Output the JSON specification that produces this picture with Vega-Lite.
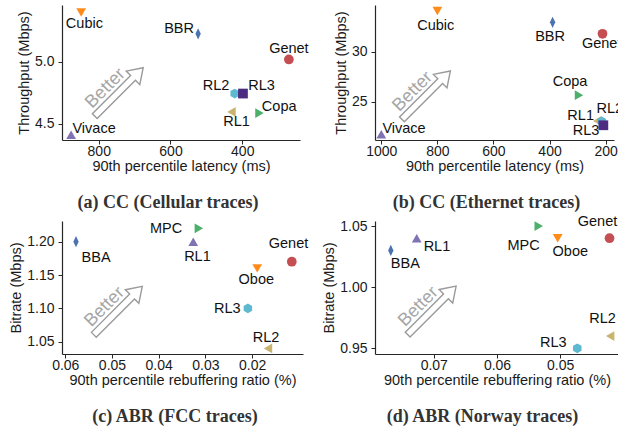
{
  "$schema": "https://vega.github.io/schema/vega-lite/v6.json",
  "autosize": {"type": "pad"},
  "padding": {"left": 8, "top": 5, "right": 0, "bottom": 0},
  "background": "white",
  "bounds": "flush",
  "columns": 2,
  "spacing": {"row": 81, "column": 72},
  "resolve": {"scale": {"color": "independent", "shape": "independent", "x": "independent", "y": "independent"}},
  "datasets": {
    "a_pts": [
      {"name": "Cubic", "x": 849, "y": 5.40},
      {"name": "BBR", "x": 523, "y": 5.227},
      {"name": "Genet", "x": 270, "y": 5.02},
      {"name": "RL2", "x": 421, "y": 4.745},
      {"name": "RL3", "x": 398, "y": 4.745},
      {"name": "RL1", "x": 430, "y": 4.597},
      {"name": "Copa", "x": 352, "y": 4.587},
      {"name": "Vivace", "x": 877, "y": 4.413}
    ],
    "a_lbl": [
      {"name": "Cubic", "x": 840, "y": 5.31},
      {"name": "BBR", "x": 576, "y": 5.268},
      {"name": "Genet", "x": 270, "y": 5.106},
      {"name": "RL2", "x": 473, "y": 4.81},
      {"name": "RL3", "x": 346, "y": 4.81},
      {"name": "Copa", "x": 297, "y": 4.634},
      {"name": "RL1", "x": 416, "y": 4.512},
      {"name": "Vivace", "x": 813, "y": 4.455}
    ],
    "a_arrow": [{"x": 743.6, "y": 4.758}],
    "b_pts": [
      {"name": "Cubic", "x": 800, "y": 34.07},
      {"name": "BBR", "x": 389, "y": 32.94},
      {"name": "Genet", "x": 211, "y": 31.8},
      {"name": "Copa", "x": 295, "y": 25.67},
      {"name": "RL1", "x": 230, "y": 23.1},
      {"name": "RL2", "x": 214, "y": 23.07},
      {"name": "RL3", "x": 208, "y": 22.67},
      {"name": "Vivace", "x": 1000, "y": 21.77}
    ],
    "b_lbl": [
      {"name": "Cubic", "x": 806, "y": 32.55},
      {"name": "BBR", "x": 398, "y": 31.49},
      {"name": "Genet", "x": 214, "y": 30.82},
      {"name": "Copa", "x": 327, "y": 26.95},
      {"name": "RL1", "x": 289, "y": 23.59},
      {"name": "RL2", "x": 185, "y": 24.25},
      {"name": "RL3", "x": 270, "y": 22.12},
      {"name": "Vivace", "x": 919, "y": 22.29}
    ],
    "b_arrow": [{"x": 840, "y": 25.67}],
    "c_pts": [
      {"name": "BBA", "x": 0.0577, "y": 1.20},
      {"name": "MPC", "x": 0.0314, "y": 1.22},
      {"name": "RL1", "x": 0.0326, "y": 1.20},
      {"name": "Genet", "x": 0.0115, "y": 1.17},
      {"name": "Oboe", "x": 0.0189, "y": 1.16},
      {"name": "RL3", "x": 0.0209, "y": 1.10},
      {"name": "RL2", "x": 0.0166, "y": 1.04}
    ],
    "c_lbl": [
      {"name": "BBA", "x": 0.0534, "y": 1.175},
      {"name": "MPC", "x": 0.0384, "y": 1.2188},
      {"name": "RL1", "x": 0.0317, "y": 1.1768},
      {"name": "Genet", "x": 0.0122, "y": 1.196},
      {"name": "Oboe", "x": 0.0191, "y": 1.1426},
      {"name": "RL3", "x": 0.0253, "y": 1.0987},
      {"name": "RL2", "x": 0.0170, "y": 1.0563}
    ],
    "c_arrow": [{"x": 0.0487, "y": 1.0967}],
    "d_pts": [
      {"name": "BBA", "x": 0.0768, "y": 1.03},
      {"name": "RL1", "x": 0.0727, "y": 1.04},
      {"name": "MPC", "x": 0.0534, "y": 1.05},
      {"name": "Oboe", "x": 0.0504, "y": 1.04},
      {"name": "Genet", "x": 0.0422, "y": 1.04},
      {"name": "RL2", "x": 0.0421, "y": 0.96},
      {"name": "RL3", "x": 0.0473, "y": 0.95}
    ],
    "d_lbl": [
      {"name": "BBA", "x": 0.0745, "y": 1.0188},
      {"name": "RL1", "x": 0.0695, "y": 1.0331},
      {"name": "MPC", "x": 0.0558, "y": 1.0333},
      {"name": "Oboe", "x": 0.0484, "y": 1.029},
      {"name": "Genet", "x": 0.0441, "y": 1.0529},
      {"name": "RL2", "x": 0.0433, "y": 0.9738},
      {"name": "RL3", "x": 0.0511, "y": 0.9547}
    ],
    "d_arrow": [{"x": 0.0703, "y": 0.981}]
  },
  "concat": [
    {
      "width": 238, "height": 135,
      "title": {"text": "(a) CC (Cellular traces)", "dx": -13},
      "encoding": {
        "x": {"field": "x", "type": "quantitative", "scale": {"domain": [239, 902.4], "reverse": true, "nice": false, "zero": false}, "axis": {"values": [400, 600, 800], "format": "d", "title": "90th percentile latency (ms)"}},
        "y": {"field": "y", "type": "quantitative", "scale": {"domain": [4.37, 5.46], "nice": false, "zero": false}, "axis": {"values": [4.5, 5.0], "format": ".1f", "title": "Throughput (Mbps)"}}
      },
      "layer": [
        {"data": {"name": "a_arrow"}, "mark": {"type": "point", "shape": "M -1 -0.1 L 0.58 -0.1 L 0.58 -0.28 L 1 0 L 0.58 0.28 L 0.58 0.1 L -1 0.1 Z", "angle": 315, "size": 4692, "filled": true, "fill": "white", "stroke": "#9a9a9a", "strokeWidth": 1.4, "opacity": 1}},
        {"data": {"name": "a_arrow"}, "mark": {"type": "text", "text": "Better", "angle": 315, "dx": -7, "dy": -12, "align": "center", "baseline": "middle", "font": "Liberation Sans", "fontSize": 18, "color": "#a6a6a6"}},
        {"data": {"name": "a_pts"}, "mark": {"type": "point", "filled": true, "size": 95, "opacity": 1, "strokeWidth": 0},
          "encoding": {
            "color": {"field": "name", "type": "nominal", "legend": null, "scale": {"domain": ["Cubic", "BBR", "Genet", "RL2", "RL3", "RL1", "Copa", "Vivace"], "range": ["#FF8C1A", "#4C72B0", "#C44E52", "#5DB8D0", "#4B2C82", "#C8B46E", "#4CAF6A", "#8172B3"]}},
            "shape": {"field": "name", "type": "nominal", "legend": null, "scale": {"domain": ["Cubic", "BBR", "Genet", "RL2", "RL3", "RL1", "Copa", "Vivace"], "range": ["triangle-down", "M 0 -1.15 L 0.55 0 L 0 1.15 L -0.55 0 Z", "circle", "M 0 -1 L 0.87 -0.5 L 0.87 0.5 L 0 1 L -0.87 0.5 L -0.87 -0.5 Z", "square", "triangle-left", "triangle-right", "triangle-up"]}}
          }},
        {"data": {"name": "a_lbl"}, "mark": {"type": "text", "align": "center", "baseline": "middle", "font": "Liberation Sans", "fontSize": 14.5, "color": "#111111"},
          "encoding": {"text": {"field": "name"}}}
      ]
    },
    {
      "width": 239, "height": 135,
      "title": {"text": "(b) CC (Ethernet traces)", "dx": -8},
      "encoding": {
        "x": {"field": "x", "type": "quantitative", "scale": {"domain": [170, 1022.5], "reverse": true, "nice": false, "zero": false}, "axis": {"values": [200, 400, 600, 800, 1000], "format": "d", "title": "90th percentile latency (ms)"}},
        "y": {"field": "y", "type": "quantitative", "scale": {"domain": [21.2, 34.67], "nice": false, "zero": false}, "axis": {"values": [25, 30], "format": "d", "title": "Throughput (Mbps)"}}
      },
      "layer": [
        {"data": {"name": "b_arrow"}, "mark": {"type": "point", "shape": "M -1 -0.1 L 0.58 -0.1 L 0.58 -0.28 L 1 0 L 0.58 0.28 L 0.58 0.1 L -1 0.1 Z", "angle": 315, "size": 4692, "filled": true, "fill": "white", "stroke": "#9a9a9a", "strokeWidth": 1.4, "opacity": 1}},
        {"data": {"name": "b_arrow"}, "mark": {"type": "text", "text": "Better", "angle": 315, "dx": -7, "dy": -12, "align": "center", "baseline": "middle", "font": "Liberation Sans", "fontSize": 18, "color": "#a6a6a6"}},
        {"data": {"name": "b_pts"}, "mark": {"type": "point", "filled": true, "size": 95, "opacity": 1, "strokeWidth": 0},
          "encoding": {
            "color": {"field": "name", "type": "nominal", "legend": null, "scale": {"domain": ["Cubic", "BBR", "Genet", "RL2", "RL3", "RL1", "Copa", "Vivace"], "range": ["#FF8C1A", "#4C72B0", "#C44E52", "#5DB8D0", "#4B2C82", "#C8B46E", "#4CAF6A", "#8172B3"]}},
            "shape": {"field": "name", "type": "nominal", "legend": null, "scale": {"domain": ["Cubic", "BBR", "Genet", "RL2", "RL3", "RL1", "Copa", "Vivace"], "range": ["triangle-down", "M 0 -1.15 L 0.55 0 L 0 1.15 L -0.55 0 Z", "circle", "M 0 -1 L 0.87 -0.5 L 0.87 0.5 L 0 1 L -0.87 0.5 L -0.87 -0.5 Z", "square", "triangle-left", "triangle-right", "triangle-up"]}}
          }},
        {"data": {"name": "b_lbl"}, "mark": {"type": "text", "align": "center", "baseline": "middle", "font": "Liberation Sans", "fontSize": 14.5, "color": "#111111"},
          "encoding": {"text": {"field": "name"}}}
      ]
    },
    {
      "width": 241, "height": 133,
      "title": {"text": "(c) ABR (FCC traces)", "dx": -7.5},
      "encoding": {
        "x": {"field": "x", "type": "quantitative", "scale": {"domain": [0.0091, 0.0607], "reverse": true, "nice": false, "zero": false}, "axis": {"values": [0.02, 0.03, 0.04, 0.05, 0.06], "format": ".2f", "title": "90th percentile rebuffering ratio (%)"}},
        "y": {"field": "y", "type": "quantitative", "scale": {"domain": [1.0316, 1.231], "nice": false, "zero": false}, "axis": {"values": [1.05, 1.10, 1.15, 1.20], "format": ".2f", "title": "Bitrate (Mbps)"}}
      },
      "layer": [
        {"data": {"name": "c_arrow"}, "mark": {"type": "point", "shape": "M -1 -0.1 L 0.58 -0.1 L 0.58 -0.28 L 1 0 L 0.58 0.28 L 0.58 0.1 L -1 0.1 Z", "angle": 315, "size": 4692, "filled": true, "fill": "white", "stroke": "#9a9a9a", "strokeWidth": 1.4, "opacity": 1}},
        {"data": {"name": "c_arrow"}, "mark": {"type": "text", "text": "Better", "angle": 315, "dx": -7, "dy": -12, "align": "center", "baseline": "middle", "font": "Liberation Sans", "fontSize": 18, "color": "#a6a6a6"}},
        {"data": {"name": "c_pts"}, "mark": {"type": "point", "filled": true, "size": 95, "opacity": 1, "strokeWidth": 0},
          "encoding": {
            "color": {"field": "name", "type": "nominal", "legend": null, "scale": {"domain": ["BBA", "MPC", "RL1", "Genet", "Oboe", "RL3", "RL2"], "range": ["#4C72B0", "#4CAF6A", "#8172B3", "#C44E52", "#FF8C1A", "#5DB8D0", "#C8B46E"]}},
            "shape": {"field": "name", "type": "nominal", "legend": null, "scale": {"domain": ["BBA", "MPC", "RL1", "Genet", "Oboe", "RL3", "RL2"], "range": ["M 0 -1.15 L 0.55 0 L 0 1.15 L -0.55 0 Z", "triangle-right", "triangle-up", "circle", "triangle-down", "M 0 -1 L 0.87 -0.5 L 0.87 0.5 L 0 1 L -0.87 0.5 L -0.87 -0.5 Z", "triangle-left"]}}
          }},
        {"data": {"name": "c_lbl"}, "mark": {"type": "text", "align": "center", "baseline": "middle", "font": "Liberation Sans", "fontSize": 14.5, "color": "#111111"},
          "encoding": {"text": {"field": "name"}}}
      ]
    },
    {
      "width": 244, "height": 133,
      "title": {"text": "(d) ABR (Norway traces)", "dx": -14.5},
      "encoding": {
        "x": {"field": "x", "type": "quantitative", "scale": {"domain": [0.0407, 0.0793], "reverse": true, "nice": false, "zero": false}, "axis": {"values": [0.05, 0.06, 0.07], "format": ".2f", "title": "90th percentile rebuffering ratio (%)"}},
        "y": {"field": "y", "type": "quantitative", "scale": {"domain": [0.9453, 1.0541], "nice": false, "zero": false}, "axis": {"values": [0.95, 1.00, 1.05], "format": ".2f", "title": "Bitrate (Mbps)"}}
      },
      "layer": [
        {"data": {"name": "d_arrow"}, "mark": {"type": "point", "shape": "M -1 -0.1 L 0.58 -0.1 L 0.58 -0.28 L 1 0 L 0.58 0.28 L 0.58 0.1 L -1 0.1 Z", "angle": 315, "size": 4692, "filled": true, "fill": "white", "stroke": "#9a9a9a", "strokeWidth": 1.4, "opacity": 1}},
        {"data": {"name": "d_arrow"}, "mark": {"type": "text", "text": "Better", "angle": 315, "dx": -7, "dy": -12, "align": "center", "baseline": "middle", "font": "Liberation Sans", "fontSize": 18, "color": "#a6a6a6"}},
        {"data": {"name": "d_pts"}, "mark": {"type": "point", "filled": true, "size": 95, "opacity": 1, "strokeWidth": 0},
          "encoding": {
            "color": {"field": "name", "type": "nominal", "legend": null, "scale": {"domain": ["BBA", "RL1", "MPC", "Oboe", "Genet", "RL2", "RL3"], "range": ["#4C72B0", "#8172B3", "#4CAF6A", "#FF8C1A", "#C44E52", "#C8B46E", "#5DB8D0"]}},
            "shape": {"field": "name", "type": "nominal", "legend": null, "scale": {"domain": ["BBA", "RL1", "MPC", "Oboe", "Genet", "RL2", "RL3"], "range": ["M 0 -1.15 L 0.55 0 L 0 1.15 L -0.55 0 Z", "triangle-up", "triangle-right", "triangle-down", "circle", "triangle-left", "M 0 -1 L 0.87 -0.5 L 0.87 0.5 L 0 1 L -0.87 0.5 L -0.87 -0.5 Z"]}}
          }},
        {"data": {"name": "d_lbl"}, "mark": {"type": "text", "align": "center", "baseline": "middle", "font": "Liberation Sans", "fontSize": 14.5, "color": "#111111"},
          "encoding": {"text": {"field": "name"}}}
      ]
    }
  ],
  "config": {
    "view": {"stroke": null},
    "axis": {"grid": false, "domainColor": "#262626", "domainWidth": 1.2, "tickColor": "#262626", "tickSize": 4, "labelFont": "Liberation Sans", "labelFontSize": 14, "labelColor": "#1a1a1a", "titleFont": "Liberation Sans", "titleFontSize": 14.5, "titleFontWeight": "normal", "titleColor": "#1a1a1a", "labelOverlap": false},
    "axisX": {"labelPadding": 0, "titlePadding": 1},
    "axisY": {"labelPadding": 4, "titlePadding": 3},
    "title": {"font": "Liberation Serif", "fontSize": 18, "fontWeight": "bold", "color": "#333333", "orient": "bottom", "anchor": "middle", "frame": "group", "offset": 21}
  }
}
